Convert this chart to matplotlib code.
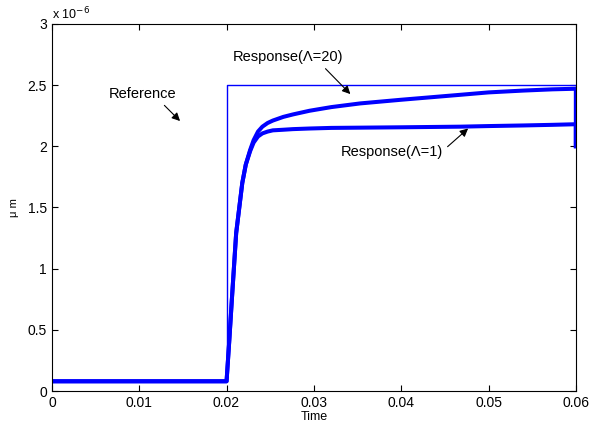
import matplotlib
matplotlib.use("Agg")
from matplotlib import pyplot as plt

plt.rcParams['font.family'] = ['Liberation Sans', 'DejaVu Sans']

# values in units of 1e-6
t_ref = [0, 0.02, 0.02, 0.06, 0.06]
y_ref = [0.08, 0.08, 2.5, 2.5, 2.0]

t_resp = [0, 0.0200, 0.0203, 0.0206, 0.0211, 0.0218, 0.0222, 0.0227, 0.0231, 0.0236, 0.0241,
          0.0247, 0.0253, 0.0265, 0.0276, 0.0295, 0.0320, 0.0353, 0.0400, 0.0467, 0.0500,
          0.0540, 0.0573, 0.0600, 0.0600]
y_lam20 = [0.08, 0.08, 0.40, 0.74, 1.29, 1.70, 1.85, 1.97, 2.05, 2.12, 2.16,
           2.19, 2.21, 2.24, 2.26, 2.29, 2.32, 2.35, 2.38, 2.42, 2.44,
           2.455, 2.465, 2.47, 2.0]
y_lam1 = [0.08, 0.08, 0.40, 0.74, 1.29, 1.70, 1.85, 1.96, 2.03, 2.08, 2.105,
          2.12, 2.13, 2.135, 2.14, 2.145, 2.15, 2.152, 2.155, 2.16, 2.165,
          2.17, 2.175, 2.18, 2.0]

fig = plt.figure(figsize=(5.9, 4.26), dpi=100)
ax = fig.add_axes([0.088, 0.082, 0.888, 0.862])

blue = (0, 0, 1)
ax.plot(t_ref, y_ref, color=blue, linewidth=1.0)
ax.plot(t_resp, y_lam20, color=blue, linewidth=2.9)
ax.plot(t_resp, y_lam1, color=blue, linewidth=2.9)

ax.set_xlim(0, 0.06)
ax.set_ylim(0, 3)
ax.set_xticks([0, 0.01, 0.02, 0.03, 0.04, 0.05, 0.06])
ax.set_xticklabels(['0', '0.01', '0.02', '0.03', '0.04', '0.05', '0.06'])
ax.set_yticks([0, 0.5, 1, 1.5, 2, 2.5, 3])
ax.set_yticklabels(['0', '0.5', '1', '1.5', '2', '2.5', '3'])
ax.tick_params(direction='in', length=4, labelsize=10, top=True, right=True)
ax.set_xlabel('Time', fontsize=9, labelpad=1)
ax.set_ylabel('\u03bc m', fontsize=8, labelpad=6)
ax.text(0.0, 1.005, 'x 10$^{-6}$', transform=ax.transAxes, fontsize=9, va='bottom', ha='left')

ax.annotate('Reference', xy=(0.0149, 2.19), xytext=(0.0104, 2.43),
            fontsize=10.5, ha='center', va='center',
            arrowprops=dict(arrowstyle='-|>', color='black', lw=0.8, mutation_scale=12,
                            relpos=(0.75, 0.0)))
ax.annotate('Response(\u039b=20)', xy=(0.0344, 2.41), xytext=(0.0270, 2.73),
            fontsize=10.5, ha='center', va='center',
            arrowprops=dict(arrowstyle='-|>', color='black', lw=0.8, mutation_scale=12,
                            relpos=(0.8, 0.0)))
ax.annotate('Response(\u039b=1)', xy=(0.0479, 2.16), xytext=(0.0389, 1.95),
            fontsize=10.5, ha='center', va='center',
            arrowprops=dict(arrowstyle='-|>', color='black', lw=0.8, mutation_scale=12,
                            relpos=(1.0, 0.6)))

fig.savefig('out.png', dpi=100)
